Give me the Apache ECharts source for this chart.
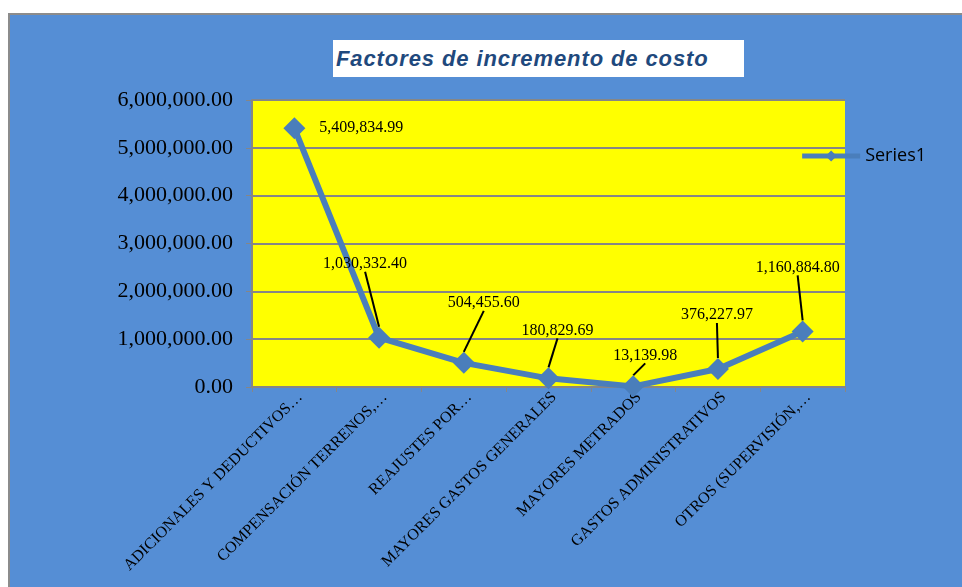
<!DOCTYPE html>
<html>
<head>
<meta charset="utf-8">
<style>
  html, body { margin: 0; padding: 0; background: #fff; }
  #frame {
    position: absolute; left: 8px; top: 13px;
    width: 954px; height: 574px;
    border-top: 2px solid #8c8c8c; border-left: 2px solid #8c8c8c;
    background: #558ed5;
  }
  #main { width: 954px; height: 574px; }
  #title {
    position: absolute; left: 323px; top: 25px; width: 411px; height: 37px;
    background: #fff; color: #1f497d;
    font: italic bold 22px "Liberation Sans", Arial, sans-serif;
    letter-spacing: 0.9px;
    line-height: 37px; padding-left: 3px; box-sizing: border-box;
  }
</style>
<script src="https://cdn.jsdelivr.net/npm/echarts@6/dist/echarts.min.js"></script>
</head>
<body>
<div id="frame">
  <div id="main"></div>
  <div id="title">Factores de incremento de costo</div>
</div>
<script>
  // categorias (truncadas como en la imagen)
  var categories = [
    'ADICIONALES Y DEDUCTIVOS…',
    'COMPENSACIÓN TERRENOS,…',
    'REAJUSTES POR…',
    'MAYORES GASTOS GENERALES',
    'MAYORES METRADOS',
    'GASTOS ADMINISTRATIVOS',
    'OTROS (SUPERVISIÓN,…'
  ];
  var values = [5409834.99, 1030332.40, 504455.60, 180829.69, 13139.98, 376227.97, 1160884.80];
  var yTicks = [0, 1000000, 2000000, 3000000, 4000000, 5000000, 6000000];

  // desplazamiento de las etiquetas de datos
  var labelOffsets = [[0, 0], [-14, -51], [20, -37], [9, -25], [12, -8], [-1, -31], [-5, -41]];

  function fmt(v) {
    return v.toLocaleString('en-US', {minimumFractionDigits: 2, maximumFractionDigits: 2});
  }

  var seriesData = values.map(function (v, i) {
    if (i === 0) {
      return { value: v, label: { position: 'right', distance: 14 }, labelLine: { show: false } };
    }
    return v;
  });

  var myChart = echarts.init(document.getElementById('main'));
  myChart.setOption({
    animation: false,
    grid: { left: 242, right: 119, top: 85, bottom: 202, show: true, backgroundColor: '#ffff00', borderWidth: 0 },
    legend: {
      data: ['Series1'], right: 33, top: 127, itemWidth: 58, itemHeight: 14, itemGap: 0,
      lineStyle: { width: 5 },
      textStyle: { color: '#000', fontSize: 18, fontFamily: 'Open Sans' }
    },
    xAxis: {
      type: 'category',
      data: categories,
      boundaryGap: true,
      axisLine: { lineStyle: { color: '#868686', width: 2 } },
      axisTick: { show: true, length: 5, lineStyle: { color: '#868686' } },
      axisLabel: {
        rotate: 45, margin: 2, interval: 0, verticalAlign: 'top',
        fontFamily: 'Liberation Serif', fontSize: 16, color: '#000'
      }
    },
    yAxis: {
      type: 'value',
      min: yTicks[0], max: yTicks[yTicks.length - 1], interval: 1000000,
      axisLine: { show: true, lineStyle: { color: '#868686', width: 2 } },
      axisTick: { show: true, length: 6, lineStyle: { color: '#868686' } },
      splitLine: { lineStyle: { color: '#868686', width: 2 } },
      axisLabel: {
        formatter: function (v) { return fmt(v); },
        fontFamily: 'Liberation Serif', fontSize: 22, color: '#000', margin: 19
      }
    },
    series: [{
      name: 'Series1',
      type: 'line',
      data: seriesData,
      symbol: 'diamond',
      symbolSize: 22,
      lineStyle: { color: '#4a7ebb', width: 6 },
      itemStyle: { color: '#4a7ebb' },
      label: {
        show: true, position: 'top', distance: 4,
        formatter: function (p) { return fmt(p.value); },
        fontFamily: 'Liberation Serif', fontSize: 16, color: '#000'
      },
      labelLine: { show: true, lineStyle: { color: '#000', width: 2 } },
      labelLayout: function (p) {
        var o = labelOffsets[p.dataIndex];
        return { dx: o[0], dy: o[1] };
      }
    }]
  });
</script>
</body>
</html>
